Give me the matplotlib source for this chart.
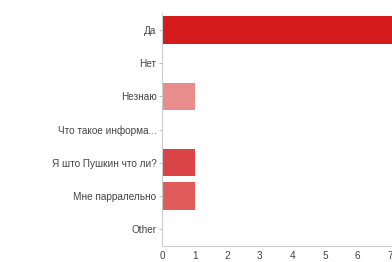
import matplotlib.pyplot as plt

categories = ["Да", "Нет", "Незнаю", "Что такое информа...",
              "Я што Пушкин что ли?", "Мне парралельно", "Other"]
counts = [8, 0, 1, 0, 1, 1, 0]
colors = ["#d41a1a", "#d41a1a", "#e88c8c", "#e88c8c",
          "#db4446", "#e05c5c", "#e05c5c"]
xticks = [0, 1, 2, 3, 4, 5, 6, 7]

plt.rcParams['font.family'] = ['Liberation Sans', 'DejaVu Sans']

W, H = 392, 262
fig = plt.figure(figsize=(W / 100, H / 100), dpi=100)

# axes runs past the right edge of the picture (screenshot is cropped)
x0, px_per_unit, xmax = 162, 32.6, 10
top, bottom = 13.3, 245.7
ax = fig.add_axes([x0 / W, 1 - bottom / H, xmax * px_per_unit / W, (bottom - top) / H])

y = list(range(len(categories)))
ax.barh(y, counts, height=0.82, color=colors)

ax.set_xlim(0, xmax)
ax.set_ylim(len(categories) - 0.5, -0.5)
ax.set_yticks(y)
ax.set_yticklabels(categories, fontsize=7.2, color="#444444")
ax.set_xticks(xticks)
ax.set_xticklabels([str(t) for t in xticks], fontsize=7.2, color="#444444")
ax.tick_params(axis='y', length=2.5, width=0.6, color="#aaaaaa", pad=1.5)
ax.tick_params(axis='x', length=0, pad=4)

for s in ['top', 'right']:
    ax.spines[s].set_visible(False)
for s in ['left', 'bottom']:
    ax.spines[s].set_color("#cccccc")
    ax.spines[s].set_linewidth(0.8)

fig.savefig("out.png", dpi=100)
